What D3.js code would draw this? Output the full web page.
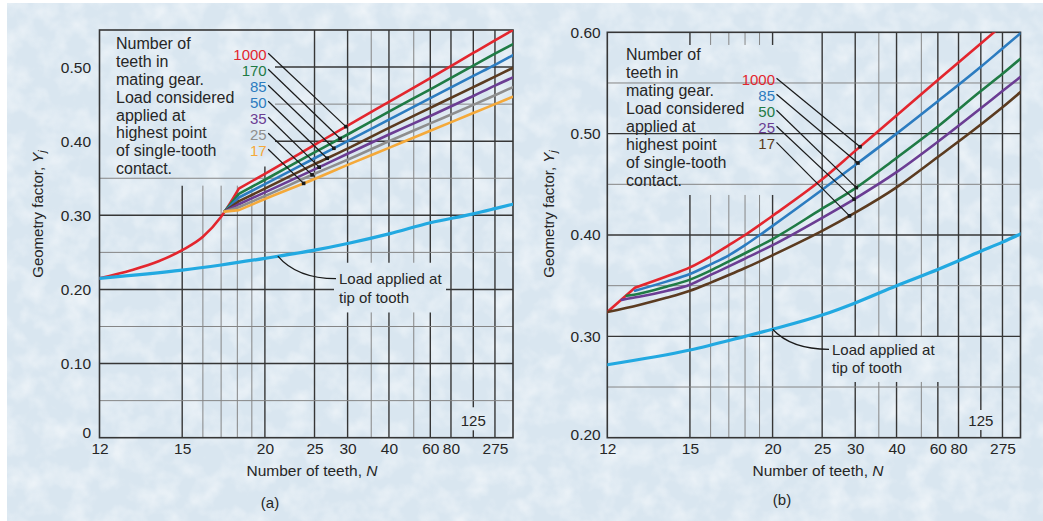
<!DOCTYPE html>
<html>
<head>
<meta charset="utf-8">
<script src="https://cdn.jsdelivr.net/npm/d3@7"></script>
<style>
  html, body { margin: 0; padding: 0; background: #ffffff; }
  svg { display: block; font-family: "Liberation Sans", Arial, Helvetica, sans-serif; }
</style>
</head>
<body>
<svg id="fig" width="1043" height="521"></svg>
<script>
// ---------- shared x-axis (number of teeth, N) ----------
const labeledTeeth = [12, 15, 20, 25, 30, 40, 60, 80, 275];
const majorTeeth   = [15, 20, 25, 30, 40, 60, 80, 125, 275];
const minorTeeth   = [16, 17, 18, 19, 35, 50];
const noteLines    = ["Number of", "teeth in", "mating gear.", "Load considered",
                      "applied at", "highest point", "of single-tooth", "contact."];
const tipLines     = ["Load applied at", "tip of tooth"];

// ---------- chart (a) ----------
const aYTicks = [0, 0.10, 0.20, 0.30, 0.40, 0.50];
const aYMinor = [0.05, 0.15, 0.25, 0.35, 0.45];
const aMating = ["1000", "170", "85", "50", "35", "25", "17"];
const aTeeth1000 = [12, 13, 14, 15, 16, 17, 18.1, 20, 25, 30, 40, 60, 125, 275, Infinity];
const aY1000     = [0.215, 0.226, 0.238, 0.253, 0.271, 0.298, 0.336, 0.356, 0.395, 0.421, 0.453, 0.485, 0.519, 0.536, 0.550];
const aTeethFan  = [17.2, 18.1, 20, 25, 30, 40, 60, 125, 275, Infinity];
const aY170 = [0.305, 0.329, 0.348, 0.385, 0.409, 0.440, 0.470, 0.502, 0.518, 0.531];
const aY85  = [0.305, 0.324, 0.342, 0.377, 0.400, 0.429, 0.458, 0.488, 0.503, 0.516];
const aY50  = [0.305, 0.319, 0.336, 0.369, 0.390, 0.418, 0.445, 0.473, 0.487, 0.499];
const aY35  = [0.305, 0.315, 0.331, 0.362, 0.383, 0.409, 0.434, 0.461, 0.475, 0.486];
const aY25  = [0.305, 0.311, 0.326, 0.356, 0.375, 0.400, 0.424, 0.449, 0.462, 0.473];
const aY17  = [0.305, 0.307, 0.322, 0.349, 0.368, 0.391, 0.414, 0.438, 0.450, 0.460];
const aTeethTip = [12, 15, 17, 20, 25, 30, 40, 60, 125, 275, Infinity];
const aYTip     = [0.215, 0.226, 0.233, 0.242, 0.253, 0.262, 0.275, 0.290, 0.302, 0.309, 0.315];
const aLeaderTeeth = [29.7, 28.7, 27.7, 26.7, 25.6, 24.7, 23.7];
const aTipLeaderTeeth = 21.1;

// ---------- chart (b) ----------
const bYTicks = [0.20, 0.30, 0.40, 0.50, 0.60];
const bYMinor = [0.25, 0.35, 0.45, 0.55];
const bMating = ["1000", "85", "50", "25", "17"];
const bTeeth1000 = [12, 12.86, 14, 15, 16, 17, 18, 20, 25, 30, 40, 60, 125, 275, Infinity];
const bY1000     = [0.324, 0.348, 0.359, 0.368, 0.379, 0.390, 0.400, 0.419, 0.455, 0.483, 0.518, 0.553, 0.589, 0.607, 0.622];
const bTeeth85   = [12.86, 14, 15, 16, 17, 18, 20, 25, 30, 40, 60, 125, 275, Infinity];
const bY85       = [0.345, 0.354, 0.3615, 0.371, 0.380, 0.390, 0.409, 0.4446, 0.469, 0.500, 0.532, 0.566, 0.584, 0.599];
const bTeeth50   = [12.59, 13, 14, 15, 16, 17, 18, 20, 25, 30, 40, 60, 125, 275, Infinity];
const bY50       = [0.340, 0.342, 0.349, 0.356, 0.365, 0.374, 0.382, 0.396, 0.426, 0.446, 0.476, 0.507, 0.542, 0.559, 0.574];
const bTeeth25   = [12.43, 13, 14, 15, 16, 17, 18, 20, 25, 30, 40, 60, 125, 275, Infinity];
const bY25       = [0.336, 0.339, 0.3448, 0.351, 0.3606, 0.369, 0.3767, 0.390, 0.417, 0.436, 0.462, 0.492, 0.525, 0.542, 0.556];
const bTeeth17   = [12, 13, 14, 15, 16, 17, 18, 20, 25, 30, 40, 60, 125, 275, Infinity];
const bY17       = [0.324, 0.331, 0.338, 0.345, 0.353, 0.3605, 0.3674, 0.380, 0.404, 0.422, 0.447, 0.477, 0.509, 0.526, 0.541];
const bTeethTip  = [12, 15, 18, 20, 25, 30, 40, 60, 125, 275, Infinity];
const bYTip      = [0.272, 0.2865, 0.300, 0.307, 0.321, 0.333, 0.350, 0.366, 0.384, 0.393, 0.401];
const bLeaderTeeth = [30.9, 30.5, 30.2, 29.8, 29.0];
const bTipLeaderTeeth = 20;

// ---------- colours ----------
const C = {
  red: "#e3262e", green: "#1f7b45", blue: "#2c7cc0", brown: "#5b3b20",
  purple: "#6b3d93", gray: "#8e8e8e", orange: "#f4a93a", tip: "#22a9e1",
  ink: "#262626", major: "#363636", minor: "#858585"
};

const svg = d3.select("#fig");

// paper background with a faint mottled texture
const defs = svg.append("defs");
const paper = defs.append("filter").attr("id", "paper")
  .attr("x", 0).attr("y", 0).attr("width", "100%").attr("height", "100%");
paper.append("feTurbulence").attr("type", "fractalNoise")
  .attr("baseFrequency", 0.045).attr("numOctaves", 3).attr("seed", 7);
paper.append("feColorMatrix").attr("type", "matrix")
  .attr("values", "0 0 0 0 1  0 0 0 0 1  0 0 0 0 1  1.4 0 0 0 -0.55");

svg.append("rect").attr("width", 1043).attr("height", 521).attr("fill", "#ffffff");
svg.append("rect").attr("x", 7).attr("y", 3).attr("width", 1036).attr("height", 518).attr("fill", "#d9e6f0");
svg.append("rect").attr("x", 7).attr("y", 3).attr("width", 1036).attr("height", 518)
  .attr("filter", "url(#paper)").attr("opacity", 0.75);

const teeth = n => 1 / n;   // the N axis is linear in 1/N (N = infinity at the right edge)

function valueAt(ns, vs, n) {
  return d3.scaleLinear().domain(ns.map(teeth)).range(vs)(teeth(n));
}

function panel(cfg) {
  const g = svg.append("g");
  const x = d3.scaleLinear().domain([1 / 12, 0]).range([cfg.left, cfg.right]);
  const y = d3.scaleLinear().domain(cfg.yDomain).range([cfg.bottom, cfg.top]);
  const [y0, y1] = cfg.yDomain;

  const clipId = "clip-" + cfg.id;
  defs.append("clipPath").attr("id", clipId).append("rect")
    .attr("x", cfg.left).attr("y", cfg.top)
    .attr("width", cfg.right - cfg.left).attr("height", cfg.bottom - cfg.top);

  // ---- grid ----
  const grid = g.append("g");
  function vline(n, segs, minor) {
    segs.forEach(([a, b]) => grid.append("line")
      .attr("x1", x(teeth(n))).attr("x2", x(teeth(n)))
      .attr("y1", y(a)).attr("y2", y(b))
      .attr("stroke", minor ? C.minor : C.major)
      .attr("stroke-width", minor ? 1 : 1.4));
  }
  function hline(v, segs, minor) {
    segs.forEach(([a, b]) => grid.append("line")
      .attr("x1", x(a)).attr("x2", x(b))
      .attr("y1", y(v)).attr("y2", y(v))
      .attr("stroke", minor ? C.minor : C.major)
      .attr("stroke-width", minor ? 1 : 1.4));
  }
  majorTeeth.concat(minorTeeth).forEach(n =>
    vline(n, cfg.vSegs(n), minorTeeth.includes(n)));
  cfg.yTicks.concat(cfg.yMinor).forEach(v => {
    if (v === y0 || v === y1) return;
    hline(v, cfg.hSegs(v, x), cfg.yMinor.includes(v));
  });

  // frame
  g.append("rect").attr("x", cfg.left).attr("y", cfg.top)
    .attr("width", cfg.right - cfg.left).attr("height", cfg.bottom - cfg.top)
    .attr("fill", "none").attr("stroke", C.major).attr("stroke-width", 1.6);

  // ---- curves ----
  const curves = g.append("g").attr("clip-path", `url(#${clipId})`);
  const line = d3.line().curve(d3.curveMonotoneX);
  function curve(ns, vs, color, width, kink) {
    const pts = ns.map((n, i) => [x(teeth(n)), y(vs[i])]);
    const parts = kink ? [pts.slice(0, kink + 1), pts.slice(kink)] : [pts];
    curves.append("path").attr("d", parts.map(p => line(p)).join(""))
      .attr("fill", "none").attr("stroke", color).attr("stroke-width", width)
      .attr("stroke-linecap", "round").attr("stroke-linejoin", "round");
  }
  cfg.series.forEach(s => curve(s.n, s.v, s.color, 2.6, s.kink));
  curve(cfg.tip.n, cfg.tip.v, C.tip, 3.2, 0);

  // ---- axes ----
  const xAxis = g.append("g").attr("transform", `translate(0,${cfg.bottom})`)
    .call(d3.axisBottom(x).tickValues(labeledTeeth.map(teeth))
      .tickFormat(u => String(Math.round(1 / u))).tickSize(0).tickPadding(5));
  const yAxis = g.append("g").attr("transform", `translate(${cfg.left},0)`)
    .call(d3.axisLeft(y).tickValues(cfg.yTicks)
      .tickFormat(v => v === 0 ? "0" : v.toFixed(2)).tickSize(0).tickPadding(cfg.yPad));
  [xAxis, yAxis].forEach(a => {
    a.select(".domain").remove();
    a.attr("font-family", null).attr("font-size", null);
    a.selectAll("text").attr("fill", C.ink).style("font-size", "15.5px");
  });
  yAxis.selectAll(".tick").filter(v => v === y0).select("text").attr("dy", cfg.y0dy);

  // "125" label inside the plot
  g.append("text").attr("x", x(teeth(125))).attr("y", cfg.bottom - 12)
    .attr("text-anchor", "middle").attr("fill", C.ink).style("font-size", "15px").text("125");

  // axis titles
  const yt = g.append("text")
    .attr("transform", `translate(${cfg.yTitleX},214) rotate(-90)`)
    .attr("text-anchor", "middle").attr("fill", C.ink).style("font-size", "15px");
  yt.append("tspan").text("Geometry factor, ");
  yt.append("tspan").attr("font-style", "italic").text("Y");
  yt.append("tspan").attr("font-style", "italic").attr("dy", "0.3em").style("font-size", "11px").text("j");

  const xt = g.append("text").attr("x", cfg.xTitleX).attr("y", 476)
    .attr("text-anchor", "middle").attr("fill", C.ink).style("font-size", "15.5px");
  xt.append("tspan").text("Number of teeth, ");
  xt.append("tspan").attr("font-style", "italic").text("N");

  g.append("text").attr("x", cfg.capX).attr("y", cfg.capY)
    .attr("text-anchor", "middle").attr("fill", C.ink).style("font-size", "15px").text(cfg.caption);

  // ---- note block ----
  noteLines.forEach((t, i) => g.append("text")
    .attr("x", cfg.noteX).attr("y", cfg.noteY + i * cfg.noteStep + 5.8)
    .attr("fill", C.ink).style("font-size", "16px").text(t));

  // ---- mating-gear labels and leaders ----
  cfg.series.forEach((s, i) => {
    const cy = cfg.labY + i * 16;
    g.append("text").attr("x", cfg.labX).attr("y", cy + 5.4)
      .attr("text-anchor", "end").attr("fill", s.labelColor)
      .style("font-size", "15px").text(s.label);
    const n = cfg.leaderTeeth[i];
    const ex = x(teeth(n)), ey = y(valueAt(s.n, s.v, n));
    g.append("line").attr("x1", cfg.labX + 1.5).attr("y1", cy - 1)
      .attr("x2", ex).attr("y2", ey)
      .attr("stroke", "#1a1a1a").attr("stroke-width", 1.2);
    g.append("rect").attr("x", ex - 1.8).attr("y", ey - 1.8)
      .attr("width", 3.6).attr("height", 3.6).attr("fill", "#1a1a1a");
  });

  // ---- tip-load label ----
  const tn = cfg.tipLeaderTeeth;
  const sx = x(teeth(tn)), sy = y(valueAt(cfg.tip.n, cfg.tip.v, tn));
  const ex = cfg.tipX - 3, ey = cfg.tipY;
  g.append("path")
    .attr("d", `M${sx},${sy} Q${sx + 0.33 * (ex - sx)},${ey} ${ex},${ey}`)
    .attr("fill", "none").attr("stroke", "#1a1a1a").attr("stroke-width", 1.3);
  tipLines.forEach((t, i) => g.append("text")
    .attr("x", cfg.tipX).attr("y", cfg.tipY + i * 18.5 + 5.4)
    .attr("fill", C.ink).style("font-size", "15px").text(t));
}

// ---------- chart (a) ----------
panel({
  id: "a", left: 99.5, right: 513, top: 30, bottom: 437.7, yDomain: [0, 0.55],
  yTicks: aYTicks, yMinor: aYMinor, yPad: 8.5, y0dy: "0.0em",
  vSegs: n => {
    if (n < 20) return [[0, 0.34]];
    if (n === 20) return [[0, 0.366]];
    if ([30, 35, 40, 50, 60].includes(n)) return [[0, 0.169], [0.236, 0.55]];
    if (n === 125) return [[0, 0.010], [0.041, 0.55]];
    return [[0, 0.55]];
  },
  hSegs: (v, x) => {
    if (v >= 0.40) return [[x.invert(275), 0]];
    if (v === 0.20) return [[1 / 12, x.invert(334)], [x.invert(446), 0]];
    return [[1 / 12, 0]];
  },
  series: [
    { label: aMating[0], n: aTeeth1000, v: aY1000, color: C.red,    labelColor: C.red,    kink: 6 },
    { label: aMating[1], n: aTeethFan,  v: aY170,  color: C.green,  labelColor: C.green,  kink: 1 },
    { label: aMating[2], n: aTeethFan,  v: aY85,   color: C.blue,   labelColor: C.blue,   kink: 1 },
    { label: aMating[3], n: aTeethFan,  v: aY50,   color: C.brown,  labelColor: C.blue,   kink: 1 },
    { label: aMating[4], n: aTeethFan,  v: aY35,   color: C.purple, labelColor: C.purple, kink: 1 },
    { label: aMating[5], n: aTeethFan,  v: aY25,   color: C.gray,   labelColor: C.gray,   kink: 1 },
    { label: aMating[6], n: aTeethFan,  v: aY17,   color: C.orange, labelColor: C.orange, kink: 1 }
  ],
  tip: { n: aTeethTip, v: aYTip },
  leaderTeeth: aLeaderTeeth, tipLeaderTeeth: aTipLeaderTeeth,
  labX: 266.7, labY: 54.3, noteX: 116, noteY: 43.3, noteStep: 17.85,
  tipX: 339, tipY: 278.7,
  yTitleX: 43, xTitleX: 312, capX: 270, capY: 508, caption: "(a)"
});

// ---------- chart (b) ----------
panel({
  id: "b", left: 607.3, right: 1020.5, top: 32.3, bottom: 437.7, yDomain: [0.2, 0.6],
  yTicks: bYTicks, yMinor: bYMinor, yPad: 6.6, y0dy: "0.1em",
  vSegs: n => {
    if (n <= 20) return [[0.2, 0.4395], [0.5875, 0.6]];
    if ([30, 35, 40, 50, 60].includes(n)) return [[0.2, 0.255], [0.30, 0.6]];
    if (n === 125) return [[0.2, 0.2076], [0.2273, 0.6]];
    return [[0.2, 0.6]];
  },
  hSegs: () => [[1 / 12, 0]],
  series: [
    { label: bMating[0], n: bTeeth1000, v: bY1000, color: C.red,    labelColor: C.red,    kink: 1 },
    { label: bMating[1], n: bTeeth85,   v: bY85,   color: C.blue,   labelColor: C.blue,   kink: 0 },
    { label: bMating[2], n: bTeeth50,   v: bY50,   color: C.green,  labelColor: C.green,  kink: 0 },
    { label: bMating[3], n: bTeeth25,   v: bY25,   color: C.purple, labelColor: C.purple, kink: 0 },
    { label: bMating[4], n: bTeeth17,   v: bY17,   color: C.brown,  labelColor: C.brown,  kink: 0 }
  ],
  tip: { n: bTeethTip, v: bYTip },
  leaderTeeth: bLeaderTeeth, tipLeaderTeeth: bTipLeaderTeeth,
  labX: 775, labY: 79.3, noteX: 626, noteY: 54.3, noteStep: 18,
  tipX: 832, tipY: 349.3,
  yTitleX: 554, xTitleX: 818, capX: 782, capY: 505, caption: "(b)"
});
</script>
</body>
</html>
